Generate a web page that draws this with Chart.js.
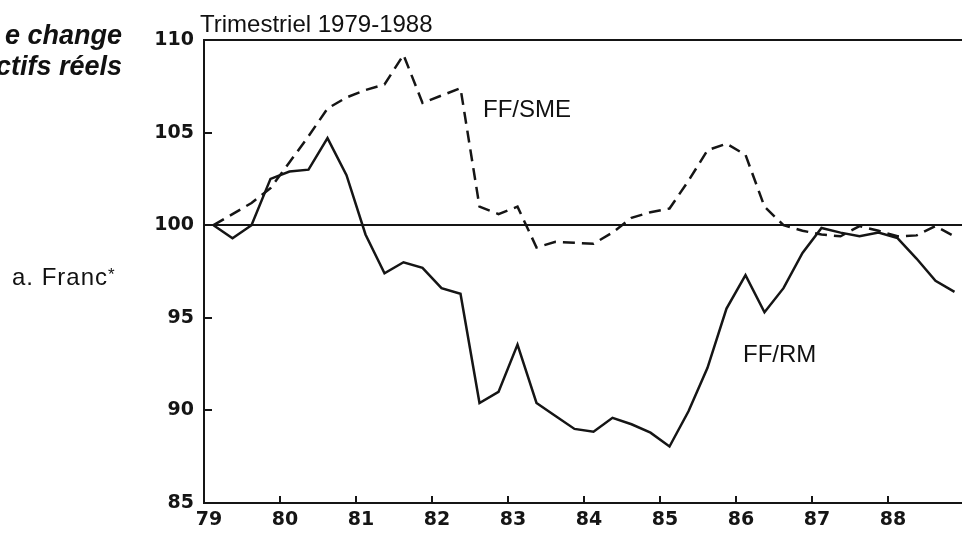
<!DOCTYPE html>
<html lang="fr">
<head>
<meta charset="utf-8">
<title>Taux de change effectifs réels</title>
<script src="https://cdn.jsdelivr.net/npm/chart.js@4.4.0/dist/chart.umd.min.js"></script>
<style>
  html, body { margin: 0; padding: 0; background: #fff; }
  body { width: 962px; height: 536px; overflow: hidden; position: relative;
         font-family: "Liberation Sans", Arial, sans-serif; color: #111; }
  #wrap { position: absolute; left: 0; top: 0; width: 970px; height: 536px; }
  .txt { position: absolute; white-space: nowrap; line-height: 1; font-size: 24px; }
  .head { font-weight: bold; font-style: italic; font-size: 27px; right: 840px; text-align: right; }
  .star { font-size: 17px; position: relative; top: -5px; }
</style>
</head>
<body>
<div id="wrap"><canvas id="chart" width="970" height="536"></canvas></div>

<div class="txt head" style="top:22px">e change</div>
<div class="txt head" style="top:53px">ctifs réels</div>
<div class="txt" style="left:12px; top:265px; letter-spacing:1px">a. Franc<span class="star">*</span></div>
<div class="txt" style="left:200px; top:12px">Trimestriel 1979-1988</div>
<div class="txt" style="left:483px; top:97px">FF/SME</div>
<div class="txt" style="left:743px; top:342px">FF/RM</div>

<script>
// years on the axis, one value per quarter (T1..T4) for each year
const years = ['79', '80', '81', '82', '83', '84', '85', '86', '87', '88'];
const quarters = ['T1', 'T2', 'T3', 'T4'];

// FF/RM (solid line)
const ffRm = [
  100.0, 99.3, 100.0, 102.5,
  102.9, 103.0, 104.7, 102.7,
  99.5, 97.4, 98.0, 97.7,
  96.6, 96.3, 90.4, 91.0,
  93.55, 90.4, 89.7, 89.0,
  88.85, 89.6, 89.25, 88.8,
  88.05, 89.95, 92.3, 95.5,
  97.3, 95.3, 96.6, 98.5,
  99.85, 99.6, 99.4, 99.6,
  99.3, 98.2, 97.0, 96.4
];

// FF/SME (dashed line)
const ffSme = [
  100.0, 100.6, 101.2, 102.0,
  103.4, 104.8, 106.3, 106.9,
  107.3, 107.6, 109.2, 106.6,
  107.0, 107.4, 101.0, 100.6,
  101.0, 98.8, 99.1, 99.05,
  99.0, 99.6, 100.4, 100.7,
  100.9, 102.4, 104.05, 104.4,
  103.8, 101.0, 100.0, 99.7,
  99.5, 99.4, 99.95, 99.7,
  99.4, 99.45, 99.95, 99.4
];

const yTicks = [85, 90, 95, 100, 105, 110];
const baseLine = 100;

const ink = '#151515';

// each quarter sits in the middle of its quarter on the year axis
const toPoints = values => values.map((v, i) => ({
  x: Number(years[Math.floor(i / quarters.length)]) + ((i % quarters.length) + 0.5) / quarters.length,
  y: v
}));

const firstYear = Number(years[0]);
const lastYear = Number(years[years.length - 1]) + 1;

// top frame line, the 100 line and the inward tick marks
const framePlugin = {
  id: 'frame',
  beforeDatasetsDraw(chart) {
    const { ctx, chartArea: a, scales: { x, y } } = chart;
    ctx.save();
    ctx.strokeStyle = ink;
    ctx.lineWidth = 2;
    [yTicks[yTicks.length - 1], baseLine].forEach(v => {
      const py = Math.round(y.getPixelForValue(v));
      ctx.beginPath();
      ctx.moveTo(a.left, py);
      ctx.lineTo(a.right, py);
      ctx.stroke();
    });
    x.ticks.forEach(t => {
      if (t.value <= firstYear || t.value >= lastYear) return;
      const px = Math.round(x.getPixelForValue(t.value));
      ctx.beginPath();
      ctx.moveTo(px, a.bottom);
      ctx.lineTo(px, a.bottom - 7);
      ctx.stroke();
    });
    y.ticks.forEach(t => {
      if (t.value === baseLine || t.value === yTicks[0] || t.value === yTicks[yTicks.length - 1]) return;
      const py = Math.round(y.getPixelForValue(t.value));
      ctx.beginPath();
      ctx.moveTo(a.left, py);
      ctx.lineTo(a.left + 8, py);
      ctx.stroke();
    });
    ctx.restore();
  }
};

const tickFont = { family: '"DejaVu Sans", sans-serif', size: 19, weight: 'bold' };

new Chart(document.getElementById('chart').getContext('2d'), {
  type: 'line',
  data: {
    datasets: [
      {
        label: 'FF/SME',
        data: toPoints(ffSme),
        borderColor: ink,
        borderWidth: 2.5,
        borderDash: [12, 7],
        pointRadius: 0,
        tension: 0,
        fill: false
      },
      {
        label: 'FF/RM',
        data: toPoints(ffRm),
        borderColor: ink,
        borderWidth: 2.5,
        pointRadius: 0,
        tension: 0,
        fill: false
      }
    ]
  },
  options: {
    responsive: false,
    animation: false,
    devicePixelRatio: 1,
    layout: { padding: { top: 40, right: 5, left: 0, bottom: 0 } },
    plugins: { legend: { display: false }, tooltip: { enabled: false } },
    scales: {
      x: {
        type: 'linear',
        min: firstYear,
        max: lastYear,
        grid: { display: false, drawTicks: false },
        border: { display: true, color: ink, width: 2 },
        ticks: {
          stepSize: 1,
          padding: 6,
          labelOffset: 5,
          color: ink,
          font: tickFont,
          maxRotation: 0,
          callback: v => years[Math.round(v) - firstYear] ?? ''
        },
        afterFit: scale => { scale.height = 33; }
      },
      y: {
        min: yTicks[0],
        max: yTicks[yTicks.length - 1],
        grid: { display: false, drawTicks: false },
        border: { display: true, color: ink, width: 2 },
        ticks: {
          stepSize: 5,
          padding: 10,
          color: ink,
          font: tickFont
        },
        afterFit: scale => { scale.width = 204; }
      }
    }
  },
  plugins: [framePlugin]
});
</script>
</body>
</html>
